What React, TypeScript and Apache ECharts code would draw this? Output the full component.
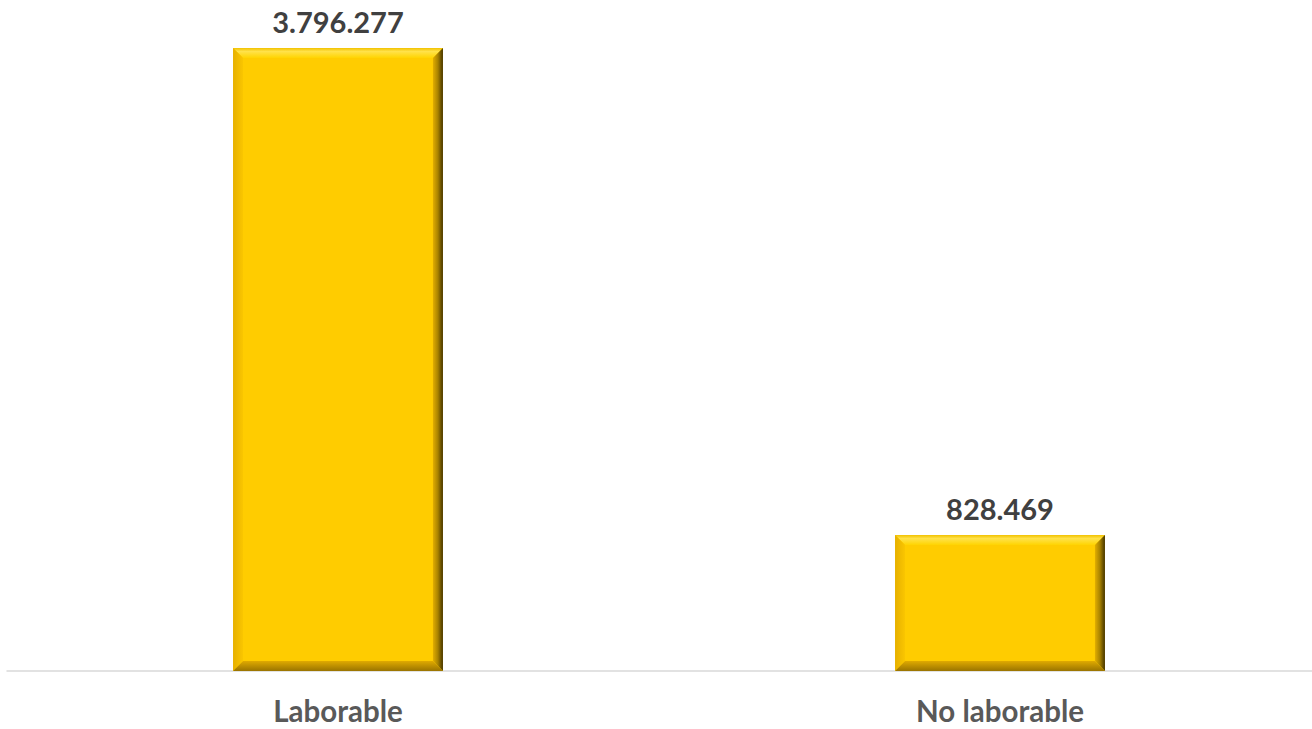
import React, { useEffect, useRef } from "react";
import * as echarts from "echarts";

const categories: string[] = ["Laborable", "No laborable"];
const values: number[] = [3796277, 828469];

function fmt(n: number): string {
  return String(Math.round(n)).replace(/\B(?=(\d{3})+(?!\d))/g, ".");
}

export default function App() {
  const ref = useRef<HTMLDivElement>(null);
  useEffect(() => {
    if (!ref.current) return;
    const chart = echarts.init(ref.current, null, { renderer: "svg" });
    const b = 10;
    const option: any = {
      animation: false,
      backgroundColor: "#ffffff",
      grid: { left: 7, right: 0, top: 48, bottom: 58, containLabel: false },
      xAxis: {
        type: "category",
        data: categories,
        boundaryGap: true,
        axisTick: { show: false },
        axisLine: { show: true, lineStyle: { color: "#d9d9d9", width: 1.5 } },
        axisLabel: {
          color: "#595959",
          fontSize: 29.5,
          lineHeight: 29.5,
          fontWeight: "bold",
          fontFamily: "Lato",
          margin: 25,
        },
        splitLine: { show: false },
      },
      yAxis: {
        type: "value",
        show: false,
        min: 0,
        max: "dataMax",
        splitLine: { show: false },
      },
      series: [
        {
          type: "custom",
          data: values.map((v, i) => [i, v]),
          encode: { x: 0, y: 1 },
          renderItem: (params: any, api: any) => {
            const idx = api.value(0);
            const val = api.value(1);
            const top = api.coord([idx, val]);
            const base = api.coord([idx, 0]);
            const w = api.size([1, 0])[0] * 0.317;
            const x0 = top[0] - w / 2;
            const x1 = top[0] + w / 2;
            const y0 = top[1];
            const y1 = base[1];
            return {
              type: "group",
              children: [
                {
                  type: "rect",
                  shape: { x: x0, y: y0, width: w, height: y1 - y0 },
                  style: { fill: "#FFCC00" },
                },
                {
                  type: "polygon",
                  shape: { points: [[x0, y0], [x1, y0], [x1 - b, y0 + b], [x0 + b, y0 + b]] },
                  style: {
                    fill: new echarts.graphic.LinearGradient(0, 0, 0, 1, [
                      { offset: 0, color: "#F2C200" },
                      { offset: 0.35, color: "#FFE24A" },
                      { offset: 1, color: "#FFD400" },
                    ]),
                  },
                },
                {
                  type: "polygon",
                  shape: { points: [[x0, y0], [x0 + b, y0 + b], [x0 + b, y1 - b], [x0, y1]] },
                  style: {
                    fill: new echarts.graphic.LinearGradient(0, 0, 1, 0, [
                      { offset: 0, color: "#E6B000" },
                      { offset: 1, color: "#FAC600" },
                    ]),
                  },
                },
                {
                  type: "polygon",
                  shape: { points: [[x1, y0], [x1, y1], [x1 - b, y1 - b], [x1 - b, y0 + b]] },
                  style: {
                    fill: new echarts.graphic.LinearGradient(0, 0, 1, 0, [
                      { offset: 0, color: "#E2AE00" },
                      { offset: 0.5, color: "#A88200" },
                      { offset: 1, color: "#453400" },
                    ]),
                  },
                },
                {
                  type: "polygon",
                  shape: { points: [[x0, y1], [x1, y1], [x1 - b, y1 - b], [x0 + b, y1 - b]] },
                  style: {
                    fill: new echarts.graphic.LinearGradient(0, 0, 0, 1, [
                      { offset: 0, color: "#E0AA00" },
                      { offset: 1, color: "#9A7400" },
                    ]),
                  },
                },
                {
                  type: "text",
                  style: {
                    text: fmt(val),
                    x: top[0],
                    y: y0 - 27,
                    align: "center",
                    verticalAlign: "middle",
                    fill: "#404040",
                    fontSize: 29,
                    fontWeight: "bold",
                    fontFamily: "Lato",
                  },
                },
              ],
            };
          },
        },
      ],
    };
    chart.setOption(option);
    return () => chart.dispose();
  }, []);
  return (
    <div
      style={{ position: "absolute", left: 0, top: 0, width: 1312, height: 729, overflow: "hidden" }}
    >
      <div ref={ref} style={{ width: 1331, height: 729 }} />
    </div>
  );
}
